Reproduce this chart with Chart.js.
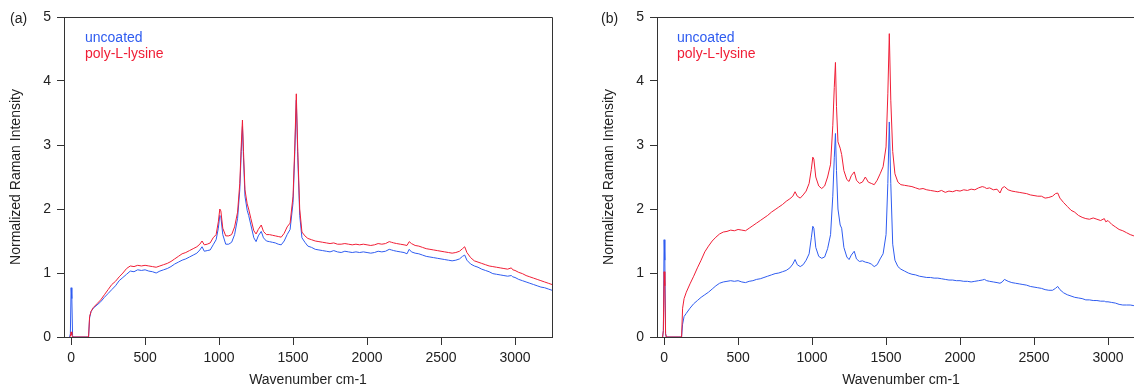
<!DOCTYPE html>
<html lang="en">
<head>
    <meta charset="UTF-8">
    <title>Raman spectra</title>
    <script src="https://cdn.jsdelivr.net/npm/chart.js"></script>
    <style>
        html, body { margin: 0; padding: 0; background: #fff; overflow: hidden; width: 1134px; height: 389px; }
        .panel { position: absolute; top: 0; width: 567px; height: 389px; }
        .tag { position: absolute; top: 10px; font: 14px "Liberation Sans", Arial, sans-serif; color: #222; }
        .leg { position: absolute; font: 14px "Liberation Sans", Arial, sans-serif; line-height: 16px; }
    </style>
</head>
<body>

    <!-- panel (a) -->
    <div class="panel" style="left:0"><canvas id="chartA" width="567" height="389"></canvas></div>
    <div class="tag" style="left:10px">(a)</div>
    <div class="leg" style="left:85px;top:29px;color:#2f5cf0">uncoated</div>
    <div class="leg" style="left:85px;top:45px;color:#f01e36">poly-L-lysine</div>

    <!-- panel (b) -->
    <div class="panel" style="left:593px"><canvas id="chartB" width="567" height="389"></canvas></div>
    <div class="tag" style="left:601px">(b)</div>
    <div class="leg" style="left:677px;top:29px;color:#2f5cf0">uncoated</div>
    <div class="leg" style="left:677px;top:45px;color:#f01e36">poly-L-lysine</div>

    <script>
        // wavenumbers (cm-1), shared by all four spectra
        const wavenumbers = [
            -10, -5, 0, 5, 10, 15, 20, 60, 100, 118,
            125, 135, 150, 175, 200, 225, 250, 275, 300, 325,
            350, 375, 400, 425, 450, 475, 500, 525, 550, 575,
            600, 625, 650, 675, 700, 725, 750, 775, 800, 825,
            850, 870, 885, 900, 920, 940, 960, 980, 995, 1005,
            1012, 1025, 1045, 1065, 1085, 1105, 1125, 1140, 1150, 1158,
            1165, 1175, 1190, 1200, 1215, 1235, 1250, 1265, 1285, 1300,
            1320, 1340, 1360, 1380, 1400, 1420, 1440, 1460, 1480, 1500,
            1512, 1522, 1532, 1545, 1560, 1580, 1600, 1625, 1650, 1675,
            1700, 1725, 1750, 1775, 1800, 1825, 1850, 1875, 1900, 1925,
            1950, 1975, 2000, 2025, 2050, 2075, 2100, 2125, 2150, 2165,
            2180, 2200, 2225, 2250, 2270, 2285, 2300, 2325, 2350, 2375,
            2400, 2425, 2450, 2475, 2500, 2525, 2550, 2575, 2600, 2625,
            2645, 2660, 2675, 2700, 2725, 2750, 2775, 2800, 2825, 2850,
            2875, 2900, 2925, 2950, 2975, 2985, 3000, 3025, 3050, 3075,
            3100, 3125, 3150, 3175, 3200, 3225, 3250
        ];

        // (a) uncoated
        const uncoatedA = [
            0, 0.05, 0.77, 0.6, 0.02, 0, 0, 0, 0, 0,
            0.3, 0.4, 0.45, 0.5, 0.55, 0.62, 0.68, 0.74, 0.8, 0.88,
            0.93, 0.98, 1.03, 1.02, 1.05, 1.04, 1.05, 1.03, 1.02, 1.0,
            1.03, 1.05, 1.07, 1.1, 1.14, 1.17, 1.2, 1.22, 1.25, 1.28,
            1.31, 1.36, 1.41, 1.34, 1.35, 1.36, 1.44, 1.52, 1.7, 1.9,
            1.88, 1.6, 1.45, 1.45, 1.48, 1.6, 1.85, 2.3, 2.9, 3.29,
            2.8, 2.2, 1.98, 1.9, 1.75, 1.55, 1.49, 1.58, 1.65, 1.55,
            1.5, 1.49, 1.48, 1.47, 1.45, 1.44, 1.5, 1.6, 1.68, 2.1,
            2.9, 3.7, 2.8, 1.9, 1.55, 1.48, 1.42, 1.4, 1.37, 1.36,
            1.35, 1.34, 1.33, 1.35, 1.33, 1.32, 1.34, 1.33, 1.32, 1.33,
            1.32, 1.33, 1.32, 1.31, 1.32, 1.34, 1.33, 1.34, 1.37, 1.36,
            1.35, 1.34, 1.33, 1.32, 1.3, 1.37, 1.33, 1.31, 1.3, 1.28,
            1.26, 1.25, 1.24, 1.23, 1.22, 1.21, 1.2, 1.19, 1.2, 1.22,
            1.26, 1.28, 1.2, 1.14, 1.11, 1.09, 1.06, 1.04, 1.02, 0.99,
            0.98, 0.97, 0.96, 0.95, 0.96, 0.94, 0.93, 0.9, 0.88, 0.86,
            0.84, 0.82, 0.8, 0.78, 0.77, 0.75, 0.73
        ];

        // (a) poly-L-lysine
        const polyLysineA = [
            0, 0.01, 0.08, 0.03, 0, 0, 0, 0, 0, 0,
            0.32, 0.4, 0.46, 0.52, 0.58, 0.66, 0.74, 0.82, 0.87, 0.94,
            1.0, 1.07, 1.11, 1.1, 1.12, 1.11, 1.12, 1.11, 1.1, 1.09,
            1.11, 1.13, 1.15, 1.18, 1.22, 1.26, 1.3, 1.32, 1.35, 1.38,
            1.41, 1.45, 1.5, 1.44, 1.45, 1.47, 1.55, 1.6, 1.8, 2.0,
            1.97, 1.7, 1.58, 1.58, 1.6, 1.72, 1.95, 2.4, 3.0, 3.39,
            2.9, 2.3, 2.08, 2.0, 1.85, 1.66, 1.61, 1.68, 1.75, 1.65,
            1.6, 1.6, 1.59, 1.58, 1.57, 1.56, 1.62, 1.72, 1.78, 2.2,
            3.0, 3.8, 2.9, 2.0, 1.64, 1.58, 1.54, 1.52, 1.5, 1.49,
            1.48, 1.47, 1.46, 1.47, 1.45, 1.45, 1.46, 1.45, 1.44, 1.45,
            1.44, 1.45, 1.44, 1.43, 1.44, 1.46, 1.45, 1.46, 1.49, 1.48,
            1.47, 1.46, 1.45, 1.44, 1.43, 1.49, 1.46, 1.43, 1.42, 1.4,
            1.38, 1.37, 1.36, 1.35, 1.34, 1.33, 1.32, 1.31, 1.32, 1.34,
            1.38, 1.41, 1.32, 1.24, 1.19, 1.17, 1.15, 1.13, 1.11, 1.1,
            1.09, 1.08, 1.07, 1.06, 1.08, 1.05, 1.04, 1.01, 0.99, 0.96,
            0.94, 0.92, 0.9, 0.88, 0.86, 0.84, 0.82
        ];

        // (b) uncoated
        const uncoatedB = [
            0, 0.1, 1.52, 1.2, 0.05, 0, 0, 0, 0, 0,
            0.2, 0.32, 0.37, 0.45, 0.52, 0.57, 0.62, 0.66, 0.7, 0.75,
            0.8, 0.84, 0.86, 0.87, 0.88, 0.87, 0.88, 0.86, 0.85, 0.87,
            0.88, 0.9, 0.91, 0.93, 0.95, 0.97, 0.99, 1.0, 1.02, 1.04,
            1.08, 1.14, 1.21, 1.13, 1.1, 1.13, 1.2, 1.3, 1.55, 1.73,
            1.7, 1.4, 1.26, 1.23, 1.25, 1.38, 1.6, 2.2, 2.8, 3.18,
            2.6, 2.0, 1.75, 1.7, 1.4, 1.25, 1.21, 1.28, 1.34, 1.22,
            1.18, 1.19, 1.17, 1.16, 1.14, 1.1, 1.13, 1.22, 1.3, 1.6,
            2.4, 3.36, 2.4, 1.45, 1.2, 1.1, 1.06, 1.03, 1.0, 0.98,
            0.97, 0.95, 0.94, 0.93, 0.93, 0.92, 0.92, 0.91, 0.9, 0.89,
            0.89, 0.88, 0.88, 0.87, 0.87, 0.86, 0.87, 0.88, 0.89, 0.9,
            0.88, 0.87, 0.86, 0.85, 0.84, 0.86, 0.9, 0.87, 0.85, 0.84,
            0.83, 0.82, 0.81, 0.79, 0.78, 0.77, 0.76, 0.74, 0.73, 0.73,
            0.76, 0.79, 0.74, 0.69, 0.66, 0.64, 0.62, 0.61, 0.6, 0.58,
            0.58, 0.57, 0.57, 0.56, 0.56, 0.55, 0.55, 0.54, 0.53, 0.51,
            0.5, 0.5, 0.5, 0.49, 0.49, 0.48, 0.48
        ];

        // (b) poly-L-lysine
        const polyLysineB = [
            0, 0.1, 1.02, 0.8, 0.05, 0, 0, 0, 0, 0,
            0.45, 0.6, 0.7, 0.83, 0.95, 1.08, 1.2, 1.33, 1.42, 1.5,
            1.56, 1.61, 1.64, 1.65, 1.67, 1.66, 1.68, 1.67, 1.66, 1.7,
            1.74, 1.78, 1.82, 1.86, 1.9, 1.95, 1.99, 2.03, 2.07, 2.12,
            2.16, 2.2, 2.27, 2.2, 2.17, 2.22, 2.28, 2.4, 2.62, 2.81,
            2.78, 2.5, 2.36, 2.32, 2.36, 2.5, 2.7, 3.3, 3.9, 4.29,
            3.6, 3.05, 2.95, 2.85, 2.6, 2.46, 2.43, 2.52, 2.58, 2.45,
            2.4, 2.42, 2.5, 2.42, 2.4, 2.38, 2.45, 2.55, 2.66, 2.97,
            3.8, 4.74, 3.7, 2.9, 2.55, 2.42, 2.38, 2.37, 2.36, 2.35,
            2.33, 2.31, 2.32, 2.3, 2.29, 2.28, 2.27, 2.29, 2.26, 2.28,
            2.27, 2.29, 2.28, 2.3, 2.29, 2.31, 2.3, 2.33, 2.35, 2.34,
            2.32, 2.33, 2.3, 2.31, 2.25, 2.33, 2.35, 2.3, 2.28, 2.27,
            2.26, 2.25, 2.24, 2.22, 2.21, 2.2, 2.2, 2.17, 2.18, 2.2,
            2.24, 2.25, 2.17, 2.1, 2.04, 1.98, 1.95, 1.9, 1.87, 1.85,
            1.84, 1.86, 1.84, 1.82, 1.85, 1.8, 1.82, 1.76, 1.72, 1.68,
            1.66, 1.63, 1.6, 1.58, 1.57, 1.55, 1.54
        ];

        const xTicks = [0, 500, 1000, 1500, 2000, 2500, 3000];
        const yTicks = [0, 1, 2, 3, 4, 5];

        const blue = '#2f5cf0';
        const red = '#f01e36';
        const axisColor = '#333';

        [uncoatedA, polyLysineA, uncoatedB, polyLysineB].forEach(arr => {
            if (arr.length !== wavenumbers.length) throw new Error('length mismatch ' + arr.length);
        });

        Chart.defaults.font.family = '"Liberation Sans", Arial, sans-serif';
        Chart.defaults.font.size = 14;
        Chart.defaults.color = '#222';

        // top + right frame lines
        const framePlugin = {
            id: 'frame',
            afterDraw(chart) {
                const { ctx, chartArea: a } = chart;
                ctx.save();
                ctx.strokeStyle = axisColor;
                ctx.lineWidth = 1;
                ctx.beginPath();
                ctx.moveTo(a.left, a.top + 0.5);
                ctx.lineTo(a.right + 0.5, a.top + 0.5);
                ctx.lineTo(a.right + 0.5, a.bottom);
                ctx.stroke();
                ctx.restore();
            }
        };

        function toPoints(values) {
            return wavenumbers.map((x, i) => ({ x: x, y: values[i] }));
        }

        function makeChart(id, unc, pll) {
            return new Chart(document.getElementById(id), {
                type: 'line',
                data: {
                    datasets: [
                        { label: 'poly-L-lysine', data: toPoints(pll), borderColor: red, borderWidth: 1, pointRadius: 0 },
                        { label: 'uncoated', data: toPoints(unc), borderColor: blue, borderWidth: 1, pointRadius: 0 }
                    ]
                },
                options: {
                    responsive: false,
                    animation: false,
                    layout: { padding: { left: 0, top: 17, right: 15, bottom: 0 } },
                    plugins: { legend: { display: false }, tooltip: { enabled: false } },
                    scales: {
                        x: {
                            type: 'linear',
                            min: -48, max: 3250,
                            afterFit: s => { s.height = 52; },
                            afterBuildTicks: s => { s.ticks = xTicks.map(v => ({ value: v })); },
                            ticks: { padding: 5, includeBounds: false, color: '#222', callback: v => String(v) },
                            grid: { drawOnChartArea: false, drawTicks: true, tickLength: 8, color: axisColor },
                            border: { display: true, color: axisColor },
                            title: { display: true, text: 'Wavenumber cm-1', padding: { top: 0, bottom: 0 }, color: '#222' }
                        },
                        y: {
                            min: 0, max: 5,
                            afterFit: s => { s.width = 64; },
                            afterBuildTicks: s => { s.ticks = yTicks.map(v => ({ value: v })); },
                            ticks: { padding: 6, color: '#222', callback: v => String(v) },
                            grid: { drawOnChartArea: false, drawTicks: true, tickLength: 7, color: axisColor },
                            border: { display: true, color: axisColor },
                            title: { display: true, text: 'Normalized Raman Intensity', padding: { top: 8, bottom: 0 }, color: '#222' }
                        }
                    }
                },
                plugins: [framePlugin]
            });
        }

        makeChart('chartA', uncoatedA, polyLysineA);
        makeChart('chartB', uncoatedB, polyLysineB);
    </script>

</body>
</html>
